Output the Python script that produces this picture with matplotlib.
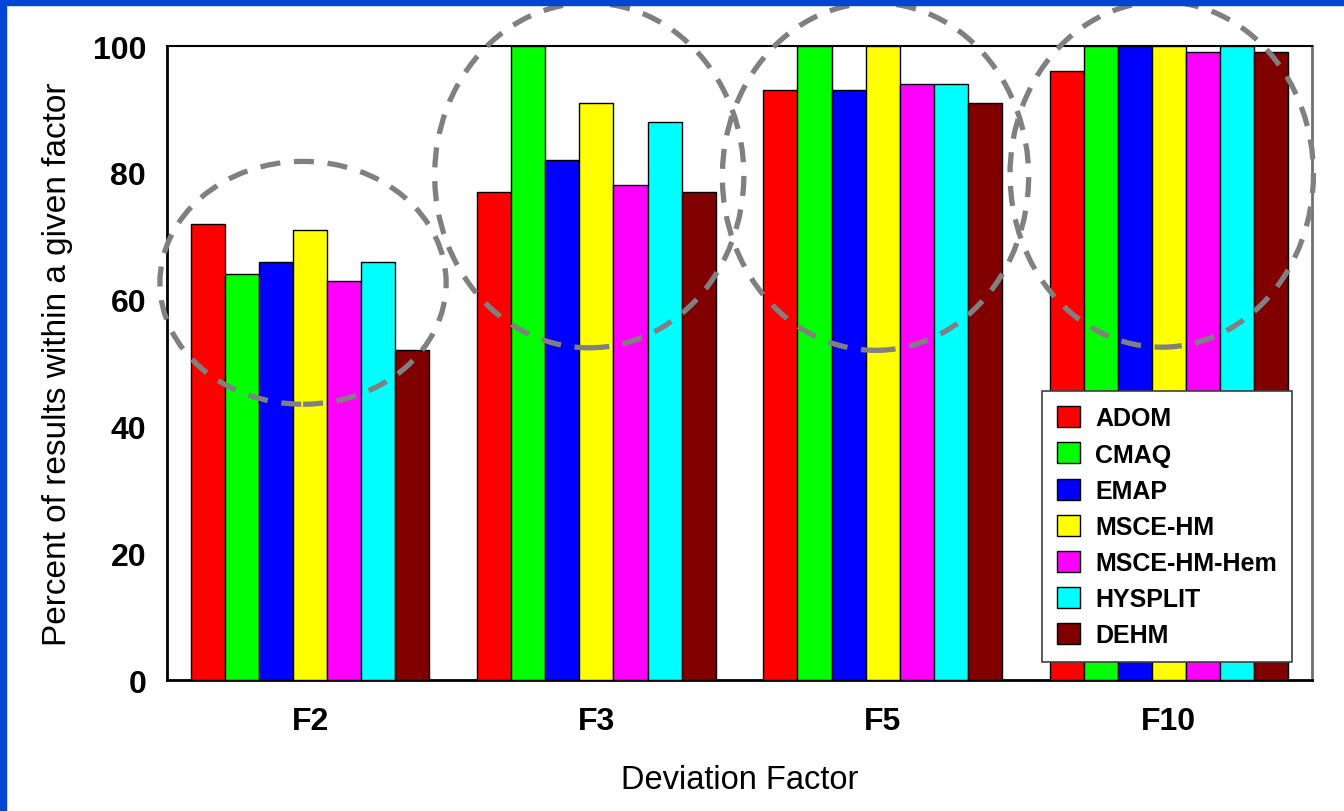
import matplotlib
matplotlib.use("Agg")
from matplotlib import pyplot as plt
from matplotlib.patches import Ellipse, Rectangle
import numpy as np

plt.rcParams['font.family'] = ['Liberation Sans', 'DejaVu Sans']

# data
factors = ['F2', 'F3', 'F5', 'F10']
models = ['ADOM', 'CMAQ', 'EMAP', 'MSCE-HM', 'MSCE-HM-Hem', 'HYSPLIT', 'DEHM']
adom = [72, 77, 93, 96]
cmaq = [64, 100, 100, 100]
emap = [66, 82, 93, 100]
msce_hm = [71, 91, 100, 100]
msce_hm_hem = [63, 78, 94, 99]
hysplit = [66, 88, 94, 100]
dehm = [52, 77, 91, 99]
series = [adom, cmaq, emap, msce_hm, msce_hm_hem, hysplit, dehm]
colors = ['#FF0000', '#00FF00', '#0000FF', '#FFFF00', '#FF00FF', '#00FFFF', '#800000']

# dashed circles drawn round each group: (bottom, top, width)
circles = [(43.5, 81.8, 1.0), (52.4, 106.8, 1.08), (52.0, 106.8, 1.07), (52.5, 107.0, 1.06)]

fig = plt.figure(figsize=(13.44, 8.12), dpi=100)
ax = fig.add_axes([0.1243, 0.1613, 0.8519, 0.7808])

x = np.arange(len(factors))
w = 0.119
for i, (vals, name, c) in enumerate(zip(series, models, colors)):
    ax.bar(x + (i - 3) * w, vals, width=w, color=c, edgecolor='black',
           linewidth=1, label=name, zorder=3)

ax.set_xlim(-0.5, 3.5)
ax.set_ylim(0, 100)
ax.set_yticks([0, 20, 40, 60, 80, 100])
ax.set_xticks(x)
ax.set_xticklabels(factors)
ax.tick_params(axis='y', length=0, pad=15, labelsize=23)
ax.tick_params(axis='x', length=0, pad=19, labelsize=23)
for t in ax.get_xticklabels() + ax.get_yticklabels():
    t.set_fontweight('bold')

ax.set_yticks([20, 40, 60, 80], minor=True)
ax.grid(axis='y', which='minor', color='#808080', linestyle=(0, (6, 5)), linewidth=1)
ax.tick_params(axis='y', which='minor', length=0)
ax.set_axisbelow(True)

ax.spines['left'].set_linewidth(2)
ax.spines['bottom'].set_linewidth(2)
ax.spines['top'].set_linewidth(1.5)
ax.spines['right'].set_linewidth(2)
ax.spines['right'].set_color('#707070')

ax.set_xlabel('Deviation Factor', fontsize=23.5, labelpad=20)
ax.set_ylabel('Percent of results within a given factor', fontsize=24, labelpad=14)

for xi, (lo, hi, cw) in zip(x, circles):
    e = Ellipse((xi - 0.025, (lo + hi) / 2), cw, hi - lo, fill=False,
                edgecolor='#808080', linewidth=3.8, linestyle=(0, (3.8, 2.6)),
                clip_on=False, zorder=10)
    ax.add_patch(e)

leg = ax.legend(loc='lower right', bbox_to_anchor=(0.9825, 0.028),
                prop={'weight': 'bold', 'size': 18}, fancybox=False,
                edgecolor='#404040', framealpha=1, handlelength=0.92,
                handleheight=0.92, handletextpad=0.6, labelspacing=0.48,
                borderpad=0.6, borderaxespad=0)
leg.get_frame().set_linewidth(1.2)

# blue slide frame on top and left
blue = '#0046D5'
fig.patches.append(Rectangle((0, 0), 6 / 1344, 1, transform=fig.transFigure,
                             color=blue, zorder=0))
fig.patches.append(Rectangle((0, 1 - 6 / 812), 1, 6 / 812, transform=fig.transFigure,
                             color=blue, zorder=0))

fig.savefig('out.png', dpi=100)
